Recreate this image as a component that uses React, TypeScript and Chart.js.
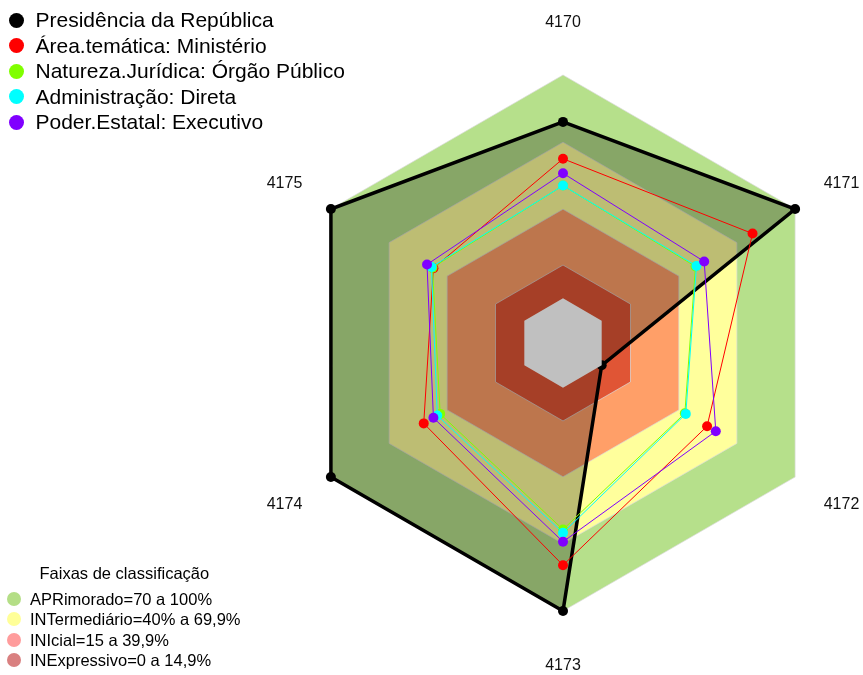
import React, { useEffect, useRef } from 'react';
import { Chart, registerables } from 'chart.js';

Chart.register(...registerables);

// ---- data ----
const axisLabels = ['4170', '4171', '4172', '4173', '4174', '4175'];

const presidencia = [79, 100, 0, 100, 100, 100];
const areaTematica = [62.5, 78, 54.5, 79.5, 52, 47];
const naturezaJuridica = [50.5, 48.5, 43, 63.5, 43.5, 47.5];
const administracao = [50.5, 49, 43.5, 65, 45, 48];
const poderEstatal = [56, 53, 59, 69, 47, 50.3];

const seriesNames = [
  'Presidência da República',
  'Área.temática: Ministério',
  'Natureza.Jurídica: Órgão Público',
  'Administração: Direta',
  'Poder.Estatal: Executivo',
];
const seriesData = [presidencia, areaTematica, naturezaJuridica, administracao, poderEstatal];
const seriesColors = ['#000000', '#ff0000', '#80ff00', '#00ffff', '#8000ff'];

const bandTitle = 'Faixas de classificação';
const bandNames = [
  'APRimorado=70 a 100%',
  'INTermediário=40% a 69,9%',
  'INIcial=15 a 39,9%',
  'INExpressivo=0 a 14,9%',
];
const bandUpper = [100, 69.9, 39.9, 14.9];
const bandFill = ['#b6e08b', '#ffff9c', '#ff9f68', '#e05535'];
const bandLegendColors = ['#b4de86', '#ffff98', '#ff9c9c', '#d98080'];
const coreValue = 0;
const coreColor = '#c0c0c0';
const scaleMin = -20;
const scaleMax = 100;

const FONT = '"Liberation Sans", Arial, sans-serif';

const spokePlugin = {
  id: 'spokes',
  beforeDatasetsDraw(chart: any) {
    const scale = chart.scales.r;
    const ctx = chart.ctx;
    ctx.save();
    ctx.strokeStyle = 'rgba(205,205,205,0.75)';
    ctx.lineWidth = 1;
    axisLabels.forEach((_, i) => {
      const a = scale.getPointPositionForValue(i, coreValue);
      const b = scale.getPointPositionForValue(i, scaleMax);
      ctx.beginPath();
      ctx.moveTo(a.x, a.y);
      ctx.lineTo(b.x, b.y);
      ctx.stroke();
    });
    ctx.restore();
  },
};

const labelPlugin = {
  id: 'axisLabelsDraw',
  afterDraw(chart: any) {
    const scale = chart.scales.r;
    const ctx = chart.ctx;
    ctx.save();
    ctx.font = '16px ' + FONT;
    ctx.fillStyle = '#111';
    ctx.textAlign = 'center';
    ctx.textBaseline = 'middle';
    const dist = scale.drawingArea * 1.2;
    axisLabels.forEach((t, i) => {
      const p = scale.getPointPosition(i, dist);
      ctx.fillText(t, p.x, p.y + 1);
    });
    ctx.restore();
  },
};

export default function App() {
  const ref = useRef<HTMLCanvasElement>(null);

  useEffect(() => {
    if (!ref.current) return;
    const bandSets = bandUpper.map((v, i) => ({
      label: bandNames[i],
      data: axisLabels.map(() => v),
      fill: 'start',
      backgroundColor: bandFill[i],
      borderColor: 'rgba(220,220,220,0.7)',
      borderWidth: 1,
      pointRadius: 0,
      order: 100 - i,
    }));
    const core = {
      label: 'core',
      data: axisLabels.map(() => coreValue),
      fill: 'start',
      backgroundColor: coreColor,
      borderColor: 'rgba(0,0,0,0)',
      borderWidth: 1,
      pointRadius: 0,
      order: 40,
    };
    const series = seriesData.map((d, i) => ({
      label: seriesNames[i],
      data: d,
      fill: i === 0 ? 'start' : false,
      backgroundColor: i === 0 ? 'rgba(0,0,0,0.26)' : seriesColors[i],
      borderColor: seriesColors[i],
      borderWidth: i === 0 ? 3.5 : 1,
      pointRadius: 5,
      pointBorderWidth: 0,
      pointBackgroundColor: seriesColors[i],
      order: i === 0 ? 50 : 10 - i,
    }));

    const chart = new Chart(ref.current, {
      type: 'radar',
      data: {
        labels: axisLabels,
        datasets: [...bandSets, series[0], core, ...series.slice(1)] as any,
      },
      options: {
        responsive: false,
        animation: false,
        events: [],
        layout: { padding: { left: 295, right: 32, top: 75, bottom: 64 } },
        plugins: {
          legend: { display: false },
          tooltip: { enabled: false },
        },
        elements: { line: { tension: 0 } },
        scales: {
          r: {
            min: scaleMin,
            max: scaleMax,
            ticks: { display: false },
            grid: { display: false },
            angleLines: { display: false },
            pointLabels: { display: false },
          },
        },
      } as any,
      plugins: [spokePlugin, labelPlugin],
    });
    return () => chart.destroy();
  }, []);

  const topCenters = seriesNames.map((_, i) => 20 + 25.5 * i);
  const bottomCenters = [599, 619.4, 639.8, 660.2];

  return (
    <div
      style={{
        position: 'absolute',
        left: 0,
        top: 0,
        width: 863,
        height: 675,
        fontFamily: FONT,
        color: '#000',
        background: '#fff',
      }}
    >
      <canvas ref={ref} width={863} height={675} style={{ position: 'absolute', left: 0, top: 0 }} />
      {seriesNames.map((name, i) => (
        <div key={name} style={{ position: 'absolute', left: 0, top: topCenters[i] - 13, height: 26, width: 400 }}>
          <span
            style={{
              position: 'absolute',
              left: 8.5,
              top: 5.5,
              width: 15,
              height: 15,
              borderRadius: '50%',
              background: seriesColors[i],
            }}
          />
          <span
            style={{
              position: 'absolute',
              left: 35.5,
              top: 0,
              lineHeight: '26px',
              fontSize: 21,
              whiteSpace: 'nowrap',
            }}
          >
            {name}
          </span>
        </div>
      ))}
      <div
        style={{
          position: 'absolute',
          left: 39.5,
          top: 563,
          lineHeight: '20px',
          fontSize: 16.5,
          whiteSpace: 'nowrap',
        }}
      >
        {bandTitle}
      </div>
      {bandNames.map((name, i) => (
        <div key={name} style={{ position: 'absolute', left: 0, top: bottomCenters[i] - 10, height: 20, width: 300 }}>
          <span
            style={{
              position: 'absolute',
              left: 7.3,
              top: 3,
              width: 14,
              height: 14,
              borderRadius: '50%',
              background: bandLegendColors[i],
            }}
          />
          <span
            style={{
              position: 'absolute',
              left: 30,
              top: 0,
              lineHeight: '20px',
              fontSize: 16.5,
              whiteSpace: 'nowrap',
            }}
          >
            {name}
          </span>
        </div>
      ))}
    </div>
  );
}
